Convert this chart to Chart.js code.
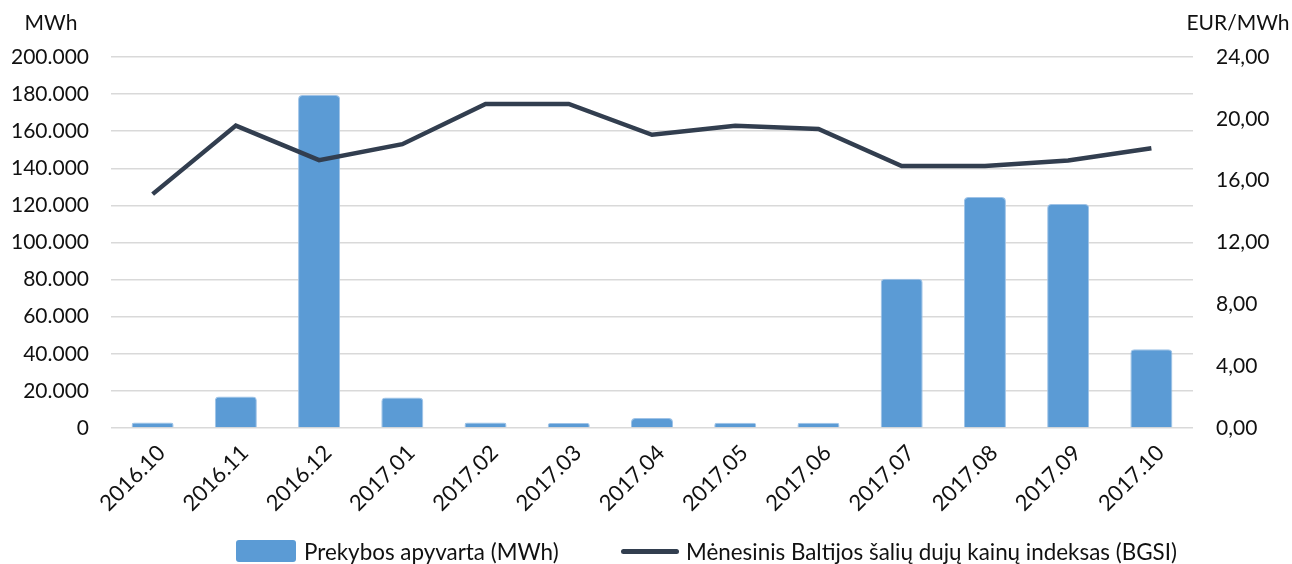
<!DOCTYPE html>
<html>
<head>
<meta charset="utf-8">
<script src="https://cdn.jsdelivr.net/npm/chart.js@4"></script>
<style>
  html, body { margin: 0; padding: 0; background: #ffffff; }
  #wrap { position: relative; width: 1292px; height: 564px; }
  #legend { position: absolute; left: 0; top: 538px; width: 1292px; height: 26px; font-family: Lato, "Open Sans", sans-serif; font-size: 22.4px; color: #111111; }
  .item { position: absolute; top: 0; height: 26px; display: flex; align-items: center; white-space: nowrap; }
  .box { width: 60px; height: 22px; background: #5b9bd5; border-radius: 3px; margin-right: 8px; }
  .ln { width: 58px; height: 5px; background: #323e4f; border-radius: 3px; margin-right: 7px; }
</style>
</head>
<body>
<div id="wrap">
  <canvas id="c" width="1292" height="564"></canvas>
  <div id="legend"></div>
</div>
<script>
const categories = ['2016.10','2016.11','2016.12','2017.01','2017.02','2017.03','2017.04','2017.05','2017.06','2017.07','2017.08','2017.09','2017.10'];
const turnoverMWh = [3000, 17000, 179500, 16400, 3000, 2700, 5400, 2800, 2800, 80500, 124500, 120800, 42500];
const bgsiIndex = [15.13, 19.56, 17.33, 18.36, 20.96, 20.96, 18.97, 19.55, 19.35, 16.95, 16.95, 17.31, 18.1];
const leftTickLabels = ['0','20.000','40.000','60.000','80.000','100.000','120.000','140.000','160.000','180.000','200.000'];
const rightTickLabels = ['0,00','4,00','8,00','12,00','16,00','20,00','24,00'];
const seriesNames = ['Prekybos apyvarta (MWh)', 'Mėnesinis Baltijos šalių dujų kainų indeksas (BGSI)'];
const axisTitles = ['MWh', 'EUR/MWh'];

const FONT = 'Lato, "Open Sans", sans-serif';
const TXT = '#111111';

const titlePlugin = {
  id: 'axisTitles',
  afterDraw(chart) {
    const ctx = chart.ctx;
    ctx.save();
    ctx.font = '21px ' + FONT;
    ctx.fillStyle = TXT;
    ctx.textBaseline = 'middle';
    ctx.textAlign = 'center';
    ctx.fillText(axisTitles[0], 51, 23);
    ctx.fillText(axisTitles[1], 1238, 23);
    ctx.restore();
  }
};

new Chart(document.getElementById('c'), {
  data: {
    labels: categories,
    datasets: [
      {
        type: 'line',
        label: seriesNames[1],
        data: bgsiIndex,
        yAxisID: 'y1',
        borderColor: '#323e4f',
        backgroundColor: '#323e4f',
        borderWidth: 4.5,
        pointRadius: 0,
        tension: 0,
        order: 0
      },
      {
        type: 'bar',
        label: seriesNames[0],
        data: turnoverMWh,
        yAxisID: 'y',
        backgroundColor: '#5b9bd5',
        borderColor: '#9fc3e7',
        borderWidth: 1,
        borderRadius: 4,
        barPercentage: 0.505,
        categoryPercentage: 1,
        order: 1
      }
    ]
  },
  options: {
    responsive: false,
    animation: false,
    layout: { padding: { top: 57, left: 0, right: 0, bottom: 0 } },
    plugins: { legend: { display: false }, tooltip: { enabled: false } },
    scales: {
      x: {
        grid: { display: false },
        border: { display: false },
        ticks: { font: { family: FONT, size: 22 }, color: TXT, minRotation: 45, maxRotation: 45, padding: 4, labelOffset: 9 },
        afterFit(s) { s.height = 564 - 428; }
      },
      y: {
        position: 'left',
        min: 0, max: 200000,
        border: { display: false },
        grid: { color: '#d9d9d9', lineWidth: 1.5, drawTicks: false },
        ticks: { stepSize: 20000, font: { family: FONT, size: 21 }, color: TXT, padding: 22,
          callback: (v, i) => leftTickLabels[i] },
        afterFit(s) { s.width = 111; }
      },
      y1: {
        position: 'right',
        min: 0, max: 24,
        border: { display: false },
        grid: { display: false, drawTicks: false },
        ticks: { stepSize: 4, font: { family: FONT, size: 21 }, color: TXT, padding: 23,
          callback: (v, i) => rightTickLabels[i] },
        afterFit(s) { s.width = 1292 - 1193; }
      }
    }
  },
  plugins: [titlePlugin]
});

const lg = document.getElementById('legend');
lg.innerHTML =
  '<div class="item" style="left:236px"><span class="box"></span><span>' + seriesNames[0] + '</span></div>' +
  '<div class="item" style="left:621px"><span class="ln"></span><span>' + seriesNames[1] + '</span></div>';
</script>
</body>
</html>
